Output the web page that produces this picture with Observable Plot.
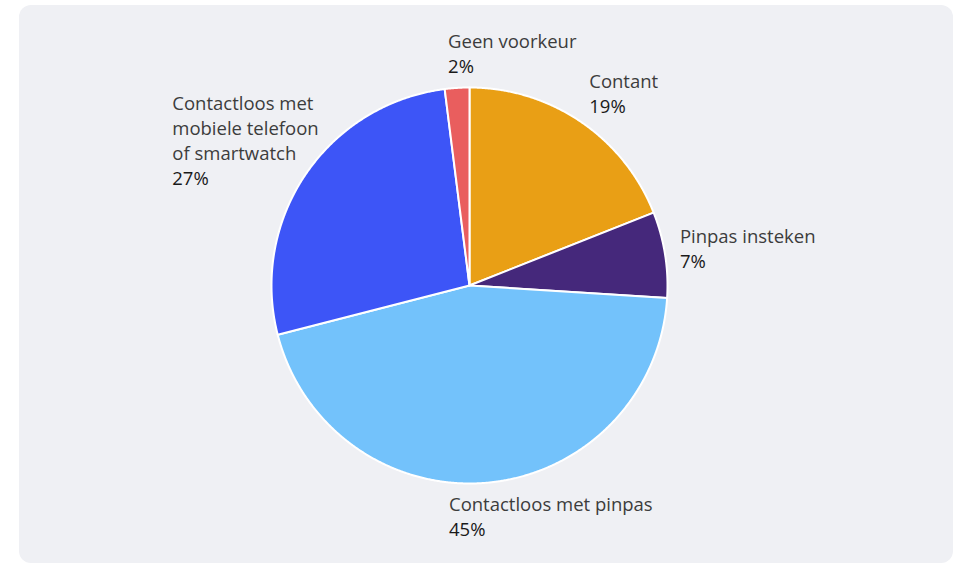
<!DOCTYPE html>
<html><head><meta charset="utf-8">
<script src="https://cdn.jsdelivr.net/npm/d3@7"></script>
<script src="https://cdn.jsdelivr.net/npm/@observablehq/plot@0.6"></script>
<style>
body{margin:0;background:#fff;}
#wrap{position:relative;width:955px;height:565px;overflow:hidden;}
#panel{position:absolute;left:19px;top:5px;right:2px;bottom:2px;background:#eff0f4;border-radius:12px;}
#chart{position:absolute;left:0;top:0;}
</style></head><body>
<div id="wrap"><div id="panel"></div><div id="chart"></div></div>
<script>
// ---- data ----
const categories = ["Contant", "Pinpas insteken", "Contactloos met pinpas", "Contactloos met mobiele telefoon of smartwatch", "Geen voorkeur"];
const labelLines = [["Contant"], ["Pinpas insteken"], ["Contactloos met pinpas"], ["Contactloos met", "mobiele telefoon", "of smartwatch"], ["Geen voorkeur"]];
const values = [19, 7, 45, 27, 2];
const percentLabels = ["19%", "7%", "45%", "27%", "2%"];
const colors = ["#e99f15", "#45287b", "#73c2fb", "#3d55f7", "#e95e5e"];

// ---- layout ----
const W = 955, H = 565;
const margin = {left: 271, right: 288, top: 87, bottom: 82};
const R = (W - margin.left - margin.right) / 2; // pixels per unit
const FONT = "'Open Sans', 'Noto Sans', sans-serif";
const FS = 18.5, LH = 25, GAP = 15;

const total = d3.sum(values);
// slice polygons (unit circle, y pointing down)
const slicePts = [];
let cum = 0;
const mids = [];
values.forEach((v, i) => {
  const a0 = 2 * Math.PI * cum / total;
  const a1 = 2 * Math.PI * (cum + v) / total;
  cum += v;
  mids.push((a0 + a1) / 2);
  slicePts.push({key: categories[i], x: 0, y: 0});
  const n = Math.max(2, Math.ceil((a1 - a0) / 0.005));
  for (let k = 0; k <= n; k++) {
    const t = a0 + (a1 - a0) * k / n;
    slicePts.push({key: categories[i], x: Math.sin(t), y: -Math.cos(t)});
  }
});

// label positions derived from slice mid-angles
const ctx = document.createElement("canvas").getContext("2d");
ctx.font = `${FS}px ${FONT}`;
const nameData = [], pctData = [];
// Plot places the first baseline 0.71 * lineHeight below y; shift so cap-top sits at "top"
const lead = 0.71 * (LH - FS);
categories.forEach((c, i) => {
  const th = mids[i], s = Math.sin(th), co = Math.cos(th);
  const lines = labelLines[i];
  const nl = lines.length + 1;
  const w = d3.max([...lines, percentLabels[i]], t => ctx.measureText(t).width);
  const h = (nl - 1) * LH + 0.71 * FS;
  const qx = (R + GAP) * s, qy = -(R + GAP) * co;
  const left = qx - w * Math.max(0, -s) - 0.2 * w * Math.max(0, -co);
  const top = qy - co * h / 2 - h / 2;
  nameData.push({x: left / R, y: (top - lead) / R, text: lines.join("\n")});
  pctData.push({x: left / R, y: (top - lead + (nl - 1) * LH) / R, text: percentLabels[i]});
});

const chart = Plot.plot({
  width: W, height: H,
  marginLeft: margin.left, marginRight: margin.right, marginTop: margin.top, marginBottom: margin.bottom,
  style: {background: "transparent", fontFamily: FONT},
  x: {domain: [-1, 1], axis: null},
  y: {domain: [-1, 1], reverse: true, axis: null},
  color: {domain: categories, range: colors},
  marks: [
    Plot.line(slicePts, {x: "x", y: "y", z: "key", fill: "key", stroke: "white", strokeWidth: 2, strokeLinejoin: "round", curve: "linear-closed"}),
    Plot.text(nameData, {x: "x", y: "y", text: "text", textAnchor: "start", lineAnchor: "top", lineHeight: LH / FS, fontSize: FS, fill: "#3c3c3c"}),
    Plot.text(pctData, {x: "x", y: "y", text: "text", textAnchor: "start", lineAnchor: "top", lineHeight: LH / FS, fontSize: FS, fill: "#1a1a1a"})
  ]
});
document.getElementById("chart").appendChild(chart);
</script>
</body></html>
